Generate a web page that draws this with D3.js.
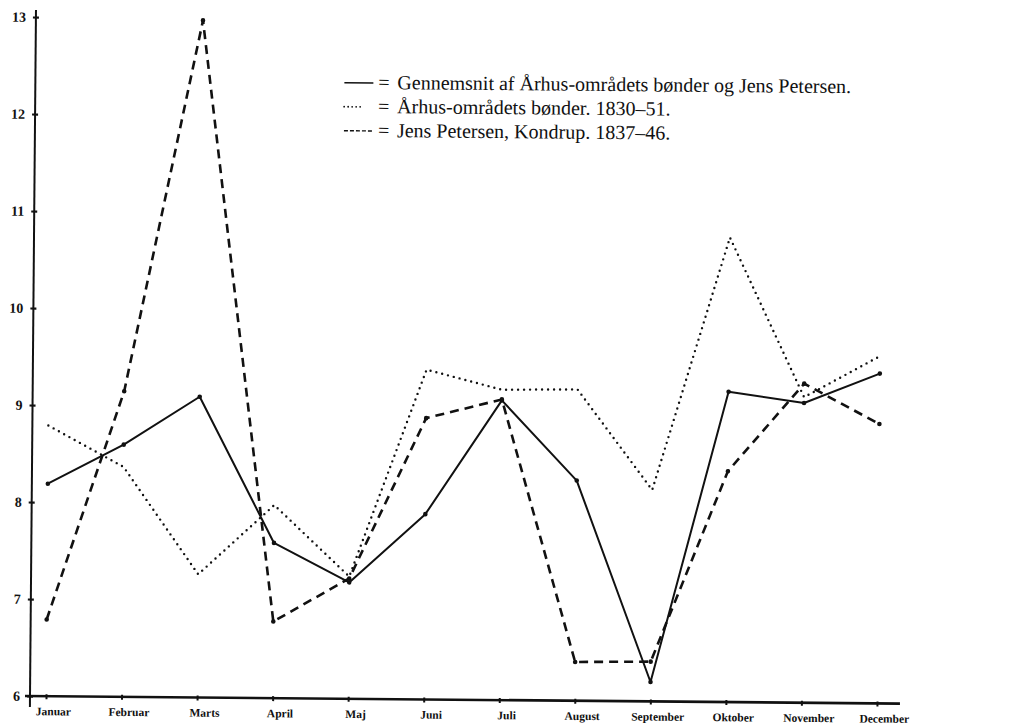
<!DOCTYPE html>
<html>
<head>
<meta charset="utf-8">
<script src="https://cdn.jsdelivr.net/npm/d3@7"></script>
<style>
  body { margin: 0; background: #fff; }
  svg { display: block; }
</style>
</head>
<body>
<div id="chart"></div>
<script>
// values
const months = ['Januar', 'Februar', 'Marts', 'April', 'Maj', 'Juni', 'Juli',
  'August', 'September', 'Oktober', 'November', 'December']
const yTicks = [6, 7, 8, 9, 10, 11, 12, 13]

// Gennemsnit af Århus-områdets bønder og Jens Petersen
const average = [8.19, 8.60, 9.10, 7.60, 7.20, 7.91, 9.09, 8.27, 6.20, 9.20, 9.09, 9.40]
// Århus-områdets bønder 1830-51
const aarhus = [8.79, 8.37, 7.27, 7.99, 7.26, 9.40, 9.20, 9.21, 8.18, 10.79, 9.15, 9.58]
// Jens Petersen, Kondrup 1837-46
const jens = [6.79, 9.15, 12.98, 6.79, 7.24, 8.90, 9.10, 6.40, 6.41, 8.38, 9.29, 8.88]

const legendLabels = [
  'Gennemsnit af Århus-områdets bønder og Jens Petersen.',
  'Århus-områdets bønder. 1830–51.',
  'Jens Petersen, Kondrup. 1837–46.'
]

const width = 1014
const height = 724
const ink = '#111'
const serif = '"Liberation Serif", "DejaVu Serif", serif'

const svg = d3.select('#chart').append('svg')
  .attr('width', width)
  .attr('height', height)

// the scan is turned a little clockwise
const g = svg.append('g').attr('transform', 'rotate(0.5,30,696)')

const x = d3.scalePoint().domain(months).range([46, 877])
const y = d3.scaleLinear().domain([6, 13]).range([696, 17])

const styles = [
  { values: average, width: 2, dash: null, cap: 'butt', dots: true },
  { values: aarhus, width: 2.4, dash: '0 6', cap: 'round', dots: false },
  { values: jens, width: 2.6, dash: '9 6', cap: 'butt', dots: true }
]

// axis lines
g.append('line')
  .attr('x1', x.range()[0] - 21).attr('x2', x.range()[1] + 23)
  .attr('y1', y(6)).attr('y2', y(6))
  .attr('stroke', ink).attr('stroke-width', 2.6)
g.append('line')
  .attr('x1', 30).attr('x2', 30)
  .attr('y1', y(6) + 11).attr('y2', y(13) - 7)
  .attr('stroke', ink).attr('stroke-width', 2)

const xAxis = g.append('g')
  .attr('transform', `translate(0,${y(6)})`)
  .call(d3.axisBottom(x).tickSizeInner(3).tickSizeOuter(0).tickPadding(8))
xAxis.select('.domain').remove()
xAxis.selectAll('line').attr('y1', -2).attr('stroke', ink).attr('stroke-width', 2)
xAxis.selectAll('text')
  .attr('font-family', serif)
  .attr('font-weight', 'bold')
  .attr('font-size', 11.5)
  .attr('fill', ink)
  .attr('dx', 7)

const yAxis = g.append('g')
  .attr('transform', 'translate(30,0)')
  .call(d3.axisLeft(y).tickValues(yTicks).tickFormat(d3.format('d'))
    .tickSizeInner(3).tickSizeOuter(0).tickPadding(7))
yAxis.select('.domain').remove()
yAxis.selectAll('line').attr('x1', 3).attr('x2', -3).attr('stroke', ink).attr('stroke-width', 2.2)
yAxis.selectAll('text')
  .attr('font-family', serif)
  .attr('font-weight', 'bold')
  .attr('font-size', 14)
  .attr('fill', ink)

// series lines
const line = d3.line()
  .x((d, i) => x(months[i]))
  .y(d => y(d))

g.selectAll('path.series')
  .data(styles)
  .join('path')
  .attr('class', 'series')
  .attr('d', d => line(d.values))
  .attr('fill', 'none')
  .attr('stroke', ink)
  .attr('stroke-width', d => d.width)
  .attr('stroke-dasharray', d => d.dash)
  .attr('stroke-linecap', d => d.cap)
  .attr('stroke-linejoin', 'round')

styles.filter(s => s.dots).forEach(s => {
  g.append('g')
    .selectAll('circle')
    .data(s.values)
    .join('circle')
    .attr('cx', (d, i) => x(months[i]))
    .attr('cy', d => y(d))
    .attr('r', 2.3)
    .attr('fill', ink)
})

// legend
const legend = g.append('g').attr('class', 'legend')
const rowY = i => 80 + i * 24

legend.selectAll('line')
  .data(styles)
  .join('line')
  .attr('x1', 339)
  .attr('x2', (d, i) => i === 1 ? 357 : 368)
  .attr('y1', (d, i) => rowY(i))
  .attr('y2', (d, i) => rowY(i))
  .attr('stroke', ink)
  .attr('stroke-width', (d, i) => i === 1 ? 1.8 : 1.4)
  .attr('stroke-dasharray', (d, i) => i === 1 ? '0 4' : i === 2 ? '4 2' : null)
  .attr('stroke-linecap', (d, i) => i === 1 ? 'round' : 'butt')

legend.selectAll('text.eq')
  .data(legendLabels)
  .join('text')
  .attr('class', 'eq')
  .attr('x', 373)
  .attr('y', (d, i) => rowY(i) + 6)
  .attr('font-family', serif)
  .attr('font-size', 20)
  .attr('fill', ink)
  .text('=')

legend.selectAll('text.label')
  .data(legendLabels)
  .join('text')
  .attr('class', 'label')
  .attr('x', 392)
  .attr('y', (d, i) => rowY(i) + 6)
  .attr('font-family', serif)
  .attr('font-size', 20)
  .attr('fill', ink)
  .text(d => d)
</script>
</body>
</html>
